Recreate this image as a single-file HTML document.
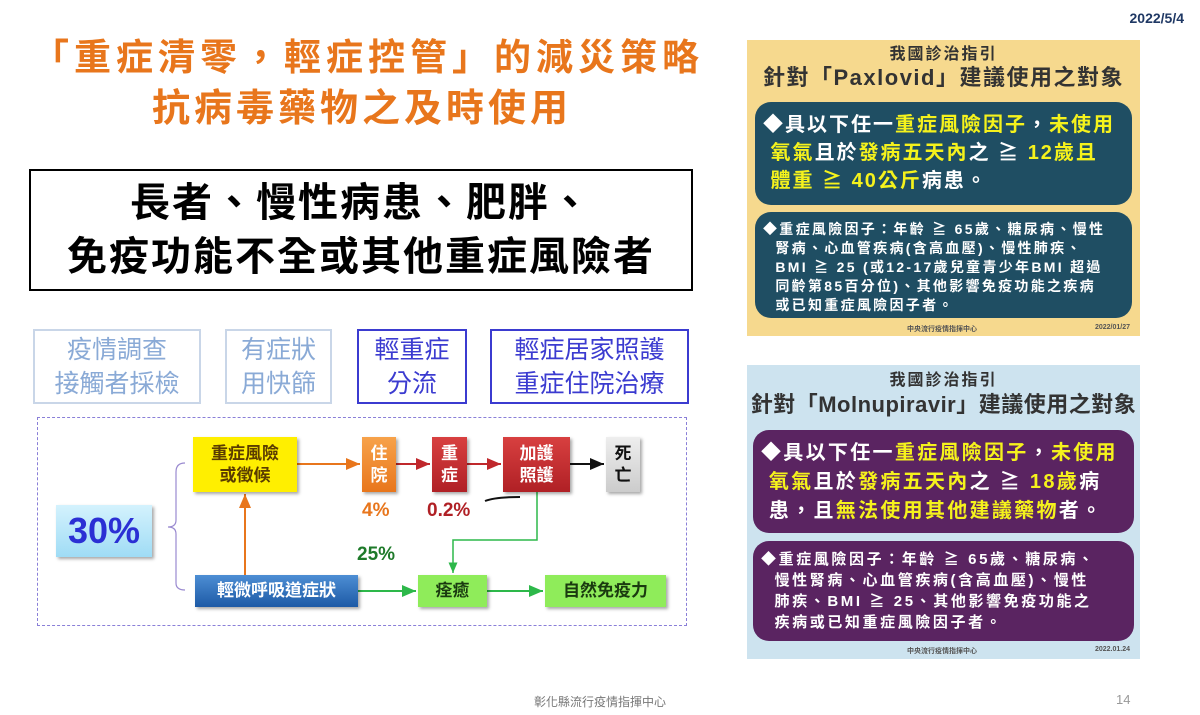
<!DOCTYPE html>
<html><head><meta charset="utf-8"><style>
*{margin:0;padding:0;box-sizing:border-box}
body{width:1200px;height:715px;background:#fff;position:relative;overflow:hidden;font-family:"Liberation Sans","Noto Sans CJK TC",sans-serif}
.a{position:absolute}
.c{display:flex;align-items:center;justify-content:center;text-align:center}
.t1{color:#e8761c;font-weight:bold;white-space:nowrap}
.sb{border:2px solid #c9d6e8;color:#8aaad6;font-size:25px;line-height:34px}
.bb{border:2px solid #3b3bd0;color:#3b3bd0;font-size:25px;line-height:34px}
.n{font-size:17px;line-height:22px;font-weight:bold;box-shadow:2px 2px 3px rgba(0,0,0,.35)}
.pan{font-weight:bold}
.dk{border-radius:16px;color:#fff;font-weight:bold;white-space:nowrap}
.y{color:#f5f21c}
</style></head><body>
<div class="a" style="right:16px;top:10px;font-size:14px;font-weight:bold;color:#1f3864">2022/5/4</div>
<div class="a t1" style="left:32px;top:36px;font-size:37px;line-height:44px;letter-spacing:5px">「重症清零，輕症控管」的減災策略</div>
<div class="a t1" style="left:152px;top:86px;font-size:38px;line-height:46px;letter-spacing:4px">抗病毒藥物之及時使用</div>
<div class="a c" style="left:29px;top:169px;width:664px;height:122px;border:2px solid #000;font-size:40px;line-height:54px;flex-direction:column;font-weight:bold;letter-spacing:2px">長者、慢性病患、肥胖、<br>免疫功能不全或其他重症風險者</div>

<div class="a c sb" style="left:33px;top:329px;width:168px;height:75px">疫情調查<br>接觸者採檢</div>
<div class="a c sb" style="left:225px;top:329px;width:107px;height:75px">有症狀<br>用快篩</div>
<div class="a c bb" style="left:357px;top:329px;width:110px;height:75px">輕重症<br>分流</div>
<div class="a c bb" style="left:490px;top:329px;width:199px;height:75px">輕症居家照護<br>重症住院治療</div>

<div class="a" style="left:37px;top:417px;width:650px;height:209px;border:1px dashed #8a7fd8"></div>
<svg class="a" style="left:0;top:0" width="1200" height="715">
<defs>
<marker id="mo" markerWidth="8" markerHeight="8" refX="7" refY="4" orient="auto"><path d="M0,1 L7,4 L0,7z" fill="#e8761c"/></marker>
<marker id="mr" markerWidth="8" markerHeight="8" refX="7" refY="4" orient="auto"><path d="M0,1 L7,4 L0,7z" fill="#c0282c"/></marker>
<marker id="mk" markerWidth="8" markerHeight="8" refX="7" refY="4" orient="auto"><path d="M0,1 L7,4 L0,7z" fill="#111"/></marker>
<marker id="mg" markerWidth="8" markerHeight="8" refX="7" refY="4" orient="auto"><path d="M0,1 L7,4 L0,7z" fill="#2db84a"/></marker>
</defs>
<path d="M185,463 Q176,463 176,472 L176,520 Q176,527 168,527 Q176,527 176,534 L176,583 Q176,590 185,590" fill="none" stroke="#9a8ad0" stroke-width="1.2"/>
<line x1="297" y1="464" x2="360" y2="464" stroke="#e8761c" stroke-width="2" marker-end="url(#mo)"/>
<line x1="396" y1="464" x2="430" y2="464" stroke="#c0282c" stroke-width="2" marker-end="url(#mr)"/>
<line x1="467" y1="464" x2="501" y2="464" stroke="#c0282c" stroke-width="2" marker-end="url(#mr)"/>
<line x1="570" y1="464" x2="604" y2="464" stroke="#111" stroke-width="2" marker-end="url(#mk)"/>
<line x1="245" y1="575" x2="245" y2="494" stroke="#e8761c" stroke-width="2" marker-end="url(#mo)"/>
<polyline points="537,492 537,540 453,540 453,573" fill="none" stroke="#2db84a" stroke-width="1.5" marker-end="url(#mg)"/>
<line x1="358" y1="591" x2="416" y2="591" stroke="#2db84a" stroke-width="2" marker-end="url(#mg)"/>
<line x1="487" y1="591" x2="543" y2="591" stroke="#2db84a" stroke-width="2" marker-end="url(#mg)"/>
<path d="M485,501 Q495,497 520,497" stroke="#111" stroke-width="2" fill="none"/>
</svg>
<div class="a c n" style="left:193px;top:437px;width:104px;height:55px;background:#ffef00;color:#5a3c00">重症風險<br>或徵候</div>
<div class="a c n" style="left:362px;top:437px;width:34px;height:55px;background:linear-gradient(#f7a24a,#e8761c);color:#fff">住<br>院</div>
<div class="a c n" style="left:432px;top:437px;width:35px;height:55px;background:linear-gradient(#d84040,#b02025);color:#fff">重<br>症</div>
<div class="a c n" style="left:503px;top:437px;width:67px;height:55px;background:linear-gradient(#d84040,#b02025);color:#fff">加護<br>照護</div>
<div class="a c n" style="left:606px;top:437px;width:34px;height:55px;background:linear-gradient(#eee,#ccc);color:#111">死<br>亡</div>
<div class="a c n" style="left:56px;top:505px;width:96px;height:52px;background:linear-gradient(#d4f2fd,#9fdcf5);color:#2b2fd4;font-size:36px">30%</div>
<div class="a c n" style="left:195px;top:575px;width:163px;height:32px;background:linear-gradient(#4d8ed4,#1d5aa6);color:#fff">輕微呼吸道症狀</div>
<div class="a c n" style="left:418px;top:575px;width:69px;height:32px;background:#8fec5a;color:#1a3a10">痊癒</div>
<div class="a c n" style="left:545px;top:575px;width:121px;height:32px;background:#8fec5a;color:#1a3a10">自然免疫力</div>
<div class="a" style="left:362px;top:500px;font-size:19px;font-weight:bold;color:#e8761c">4%</div>
<div class="a" style="left:427px;top:500px;font-size:19px;font-weight:bold;color:#b02025">0.2%</div>
<div class="a" style="left:357px;top:544px;font-size:19px;font-weight:bold;color:#1e7a2a">25%</div>

<!-- Paxlovid -->
<div class="a pan" style="left:747px;top:40px;width:393px;height:296px;background:#f6d98e">
 <div class="a" style="left:0;width:393px;top:5px;text-align:center;color:#333;font-size:16px;line-height:20px;letter-spacing:2px">我國診治指引</div>
 <div class="a" style="left:0;width:393px;top:24px;text-align:center;color:#333;font-size:22px;line-height:28px;white-space:nowrap;letter-spacing:1.5px">針對「Paxlovid」建議使用之對象</div>
 <div class="a dk" style="left:8px;top:62px;width:377px;height:103px;background:#1f4e63;padding:9px 8px;font-size:20px;line-height:28px;letter-spacing:2px">◆具以下任一<span class="y">重症風險因子</span>，<span class="y">未使用<br>&nbsp;氧氣</span>且於<span class="y">發病五天內</span>之 ≧ <span class="y">12歲且<br>&nbsp;體重 ≧ 40公斤</span>病患。</div>
 <div class="a dk" style="left:8px;top:172px;width:377px;height:106px;background:#1f4e63;padding:8px 8px;font-size:14px;line-height:19px;letter-spacing:2.3px">◆重症風險因子：年齡 ≧ 65歲、糖尿病、慢性<br>&nbsp;&nbsp;腎病、心血管疾病(含高血壓)、慢性肺疾、<br>&nbsp;&nbsp;BMI ≧ 25 (或12-17歲兒童青少年BMI 超過<br>&nbsp;&nbsp;同齡第85百分位)、其他影響免疫功能之疾病<br>&nbsp;&nbsp;或已知重症風險因子者。</div>
 <div class="a" style="left:160px;top:284px;font-size:7px;color:#555">中央流行疫情指揮中心</div>
 <div class="a" style="right:10px;top:284px;font-size:7px;color:#555">2022/01/27</div>
</div>

<!-- Molnupiravir -->
<div class="a pan" style="left:747px;top:365px;width:393px;height:294px;background:#cde3ef">
 <div class="a" style="left:0;width:393px;top:6px;text-align:center;color:#333;font-size:16px;line-height:20px;letter-spacing:2px">我國診治指引</div>
 <div class="a" style="left:0;width:393px;top:26px;text-align:center;color:#333;font-size:22px;line-height:28px;white-space:nowrap;letter-spacing:0.5px">針對「Molnupiravir」建議使用之對象</div>
 <div class="a dk" style="left:6px;top:65px;width:381px;height:103px;background:#5a2461;padding:9px 8px;font-size:20px;line-height:29px;letter-spacing:2.3px">◆具以下任一<span class="y">重症風險因子</span>，<span class="y">未使用<br>&nbsp;氧氣</span>且於<span class="y">發病五天內</span>之 ≧ <span class="y">18歲</span>病<br>&nbsp;患，且<span class="y">無法使用其他建議藥物</span>者。</div>
 <div class="a dk" style="left:6px;top:176px;width:381px;height:100px;background:#5a2461;padding:8px 8px;font-size:15px;line-height:21px;letter-spacing:2.6px">◆重症風險因子：年齡 ≧ 65歲、糖尿病、<br>&nbsp;&nbsp;慢性腎病、心血管疾病(含高血壓)、慢性<br>&nbsp;&nbsp;肺疾、BMI ≧ 25、其他影響免疫功能之<br>&nbsp;&nbsp;疾病或已知重症風險因子者。</div>
 <div class="a" style="left:160px;top:281px;font-size:7px;color:#555">中央流行疫情指揮中心</div>
 <div class="a" style="right:10px;top:281px;font-size:7px;color:#555">2022.01.24</div>
</div>

<div class="a" style="left:0;width:1200px;top:693px;text-align:center;font-size:12px;color:#777">彰化縣流行疫情指揮中心</div>
<div class="a" style="left:1116px;top:692px;font-size:13px;color:#999">14</div>
</body></html>
